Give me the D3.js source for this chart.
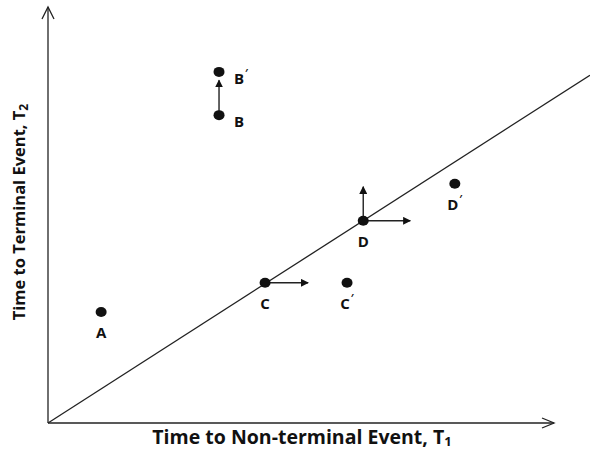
<!DOCTYPE html>
<html>
<head>
<meta charset="utf-8">
<script src="https://cdn.jsdelivr.net/npm/d3@7"></script>
<style>
  body { margin: 0; background: #fff; }
  text { font-family: "Open Sans", sans-serif; font-weight: bold; fill: #111; }
</style>
</head>
<body>
<script>
// point names and positions (abstract units, 0-100 on both axes)
const names = ["A", "B", "B'", "C", "C'", "D", "D'"];
const xVals = [10.5, 33.8, 33.8, 42.9, 59.1, 62.3, 80.4];
const yVals = [26.7, 74.0, 84.4, 33.7, 33.7, 48.6, 57.5];
// label offsets: which side the label sits
const labelSide = ["below", "right", "right", "below", "below", "below", "below"];

// arrows: [x1, y1, x2, y2]
const arrowFrom = [[33.8, 74.0], [42.9, 33.7], [62.3, 48.6], [62.3, 48.6]];
const arrowTo = [[33.8, 82.4], [51.4, 33.7], [62.3, 56.8], [71.6, 48.6]];

// the diagonal T1 = T2 line
const diagEnd = [107.1, 83.6];

const width = 590, height = 451;

const svg = d3.select("body").append("svg")
    .attr("width", width)
    .attr("height", height);

const x = d3.scaleLinear().domain([0, 100]).range([48, 554]);
const y = d3.scaleLinear().domain([0, 100]).range([423, 7]);

const defs = svg.append("defs");
defs.append("marker")
    .attr("id", "tri")
    .attr("viewBox", "0 0 10 10")
    .attr("refX", 9).attr("refY", 5)
    .attr("markerWidth", 8).attr("markerHeight", 8)
    .attr("markerUnits", "userSpaceOnUse")
    .attr("orient", "auto")
    .append("path")
    .attr("d", "M0,0L10,5L0,10Z")
    .attr("fill", "#111");

// axes
svg.append("line")
    .attr("x1", x(0)).attr("y1", y(0))
    .attr("x2", x(100)).attr("y2", y(0))
    .attr("stroke", "#222").attr("stroke-width", 1.3);
svg.append("line")
    .attr("x1", x(0)).attr("y1", y(0))
    .attr("x2", x(0)).attr("y2", y(100))
    .attr("stroke", "#222").attr("stroke-width", 1.3);

// open chevrons at axis ends
svg.append("path")
    .attr("d", `M${x(100) - 12},${y(0) - 5}L${x(100)},${y(0)}L${x(100) - 12},${y(0) + 5}`)
    .attr("fill", "none").attr("stroke", "#222").attr("stroke-width", 1.3);
svg.append("path")
    .attr("d", `M${x(0) - 6},${y(100) + 12}L${x(0)},${y(100)}L${x(0) + 6},${y(100) + 12}`)
    .attr("fill", "none").attr("stroke", "#222").attr("stroke-width", 1.3);

// diagonal
svg.append("line")
    .attr("x1", x(0)).attr("y1", y(0))
    .attr("x2", x(diagEnd[0])).attr("y2", y(diagEnd[1]))
    .attr("stroke", "#222").attr("stroke-width", 1.3);

// movement arrows
svg.selectAll(".arrow")
    .data(arrowFrom)
    .enter()
    .append("line")
    .attr("class", "arrow")
    .attr("x1", d => x(d[0]))
    .attr("y1", d => y(d[1]))
    .attr("x2", (d, i) => x(arrowTo[i][0]))
    .attr("y2", (d, i) => y(arrowTo[i][1]))
    .attr("stroke", "#222").attr("stroke-width", 1.4)
    .attr("marker-end", "url(#tri)");

// dots
svg.selectAll(".dot")
    .data(names)
    .enter()
    .append("ellipse")
    .attr("class", "dot")
    .attr("cx", (d, i) => x(xVals[i]))
    .attr("cy", (d, i) => y(yVals[i]))
    .attr("rx", 5.5).attr("ry", 5)
    .attr("fill", "#111");

// labels
const labels = svg.selectAll(".lbl")
    .data(names)
    .enter()
    .append("text")
    .attr("class", "lbl")
    .attr("font-size", 15)
    .attr("text-anchor", (d, i) => labelSide[i] === "below" ? "middle" : "start")
    .attr("x", (d, i) => labelSide[i] === "below" ? x(xVals[i]) : x(xVals[i]) + 15)
    .attr("y", (d, i) => labelSide[i] === "below" ? y(yVals[i]) + 26 : y(yVals[i]) + 12);

labels.append("tspan").text(d => d[0]);
labels.filter(d => d.length > 1)
    .append("tspan")
    .attr("font-size", 10)
    .attr("dy", -7)
    .attr("dx", 1)
    .text("\u2032");

// axis titles
const xt = svg.append("text")
    .attr("x", 302).attr("y", 444)
    .attr("text-anchor", "middle")
    .attr("font-size", 19.5);
xt.append("tspan").text("Time to Non-terminal Event, T");
xt.append("tspan").attr("font-size", 13).attr("dy", 2).text("1");

const yt = svg.append("text")
    .attr("transform", "translate(25,212) rotate(-90)")
    .attr("text-anchor", "middle")
    .attr("font-size", 16.5);
yt.append("tspan").text("Time to Terminal Event, T");
yt.append("tspan").attr("font-size", 12).attr("dy", 3).text("2");
</script>
</body>
</html>
